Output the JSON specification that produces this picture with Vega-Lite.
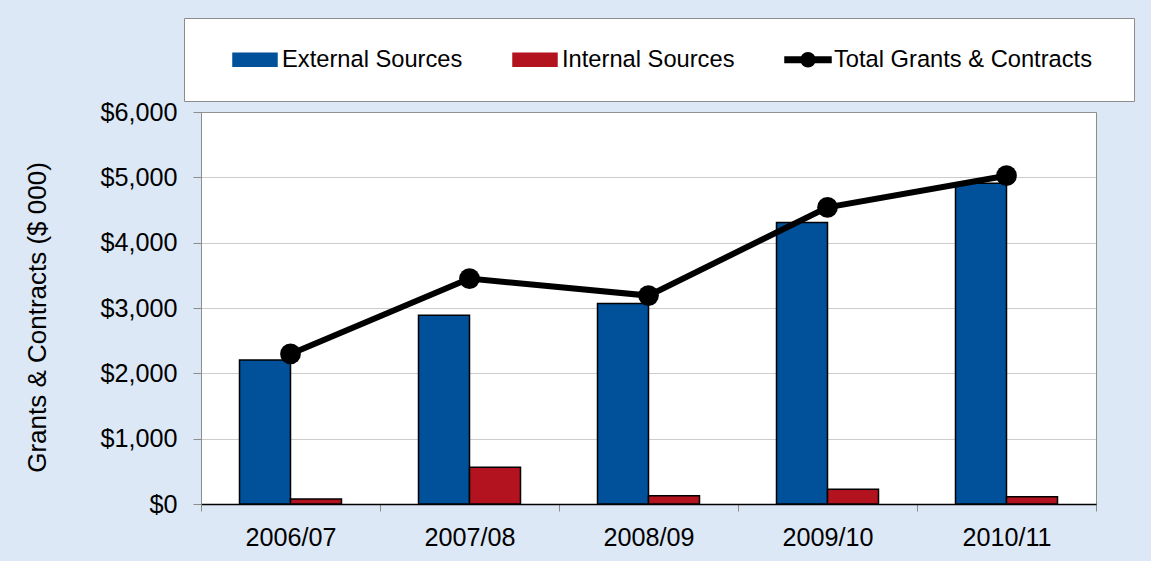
{
  "$schema": "https://vega.github.io/schema/vega-lite/v6.json",
  "width": 895,
  "height": 392,
  "autosize": {"type": "none"},
  "padding": {"left": 201, "top": 112, "right": 55, "bottom": 57},
  "background": "#dce8f5",
  "config": {
    "font": "Liberation Sans",
    "view": {"fill": "white", "stroke": "#8c8c8c", "strokeWidth": 1}
  },
  "data": {
    "values": [
      {"year": "2006/07", "series": "External Sources", "value": 2205},
      {"year": "2006/07", "series": "Internal Sources", "value": 77},
      {"year": "2006/07", "series": "Total Grants & Contracts", "value": 2297},
      {"year": "2007/08", "series": "External Sources", "value": 2890},
      {"year": "2007/08", "series": "Internal Sources", "value": 562},
      {"year": "2007/08", "series": "Total Grants & Contracts", "value": 3450},
      {"year": "2008/09", "series": "External Sources", "value": 3068},
      {"year": "2008/09", "series": "Internal Sources", "value": 127},
      {"year": "2008/09", "series": "Total Grants & Contracts", "value": 3190},
      {"year": "2009/10", "series": "External Sources", "value": 4308},
      {"year": "2009/10", "series": "Internal Sources", "value": 225},
      {"year": "2009/10", "series": "Total Grants & Contracts", "value": 4540},
      {"year": "2010/11", "series": "External Sources", "value": 4910},
      {"year": "2010/11", "series": "Internal Sources", "value": 112},
      {"year": "2010/11", "series": "Total Grants & Contracts", "value": 5025}
    ]
  },
  "encoding": {
    "x": {
      "field": "year",
      "type": "nominal",
      "scale": {"paddingInner": 0, "paddingOuter": 0},
      "axis": {
        "title": null,
        "labelAngle": 0,
        "labelFontSize": 25.2,
        "labelColor": "black",
        "labelPadding": 14,
        "tickSize": 7,
        "tickColor": "#8c8c8c",
        "tickBand": "extent",
        "domainColor": "black",
        "domainWidth": 1.5,
        "grid": false
      }
    },
    "y": {
      "field": "value",
      "type": "quantitative",
      "scale": {"domain": [0, 6000], "nice": false},
      "axis": {
        "values": [0, 1000, 2000, 3000, 4000, 5000, 6000],
        "format": "$,.0f",
        "labelFontSize": 25.2,
        "labelColor": "black",
        "labelPadding": 16,
        "tickSize": 8,
        "tickColor": "#8c8c8c",
        "domainColor": "#8c8c8c",
        "gridColor": "#999999",
        "gridDash": [1, 1],
        "title": "Grants & Contracts ($ 000)",
        "titleFontSize": 26,
        "titleFontWeight": "normal",
        "titleColor": "black",
        "titlePadding": 49,
        "titleY": 205
      }
    },
    "color": {
      "field": "series",
      "type": "nominal",
      "scale": {
        "domain": ["External Sources", "Internal Sources", "Total Grants & Contracts"],
        "range": ["#00519a", "#b3131e", "#000000"]
      },
      "legend": {
        "orient": "none",
        "legendX": -17,
        "legendY": -94,
        "direction": "horizontal",
        "columns": 3,
        "columnPadding": 47,
        "labelFontSize": 23.7,
        "labelColor": "black",
        "labelOffset": -3,
        "labelLimit": 500,
        "symbolSize": 2601,
        "symbolStrokeWidth": 1.5,
        "padding": 15,
        "fillColor": "white",
        "strokeColor": "#8c8c8c",
        "title": " ",
        "titleOrient": "left",
        "titleFontSize": 1,
        "titlePadding": 33,
        "encode": {
          "symbols": {
            "update": {
              "size": {"value": 2601},
              "shape": {"signal": "datum.value === 'Total Grants & Contracts' ? 'M-1,-0.105H-0.373V0.105H-1Z M0.177,-0.105H0.804V0.105H0.177Z M0.177,0 A0.275,0.275 0 1,1 -0.373,0 A0.275,0.275 0 1,1 0.177,0Z M11.95,0.9' : 'M-1,-0.255H0.725V0.255H-1Z M-1,0.9'"},
              "fill": {"signal": "datum.value === 'External Sources' ? '#00519a' : datum.value === 'Internal Sources' ? '#b3131e' : '#000000'"},
              "stroke": {"value": "black"},
              "strokeWidth": {"value": 1.5},
              "opacity": {"value": 1},
              "fillOpacity": {"value": 1},
              "strokeOpacity": {"value": 1}
            }
          }
        }
      }
    }
  },
  "layer": [
    {
      "transform": [{"filter": "datum.series !== 'Total Grants & Contracts'"}],
      "mark": {"type": "bar", "stroke": "black", "strokeWidth": 1.5, "opacity": 1},
      "encoding": {
        "xOffset": {
          "field": "series",
          "type": "nominal",
          "scale": {"domain": ["External Sources", "Internal Sources"], "paddingInner": 0, "paddingOuter": 0.755}
        }
      }
    },
    {
      "transform": [{"filter": "datum.series === 'Total Grants & Contracts'"}],
      "mark": {"type": "line", "strokeWidth": 6},
      "encoding": {}
    },
    {
      "transform": [{"filter": "datum.series === 'Total Grants & Contracts'"}],
      "mark": {"type": "point", "filled": true, "size": 430, "opacity": 1},
      "encoding": {}
    }
  ]
}
